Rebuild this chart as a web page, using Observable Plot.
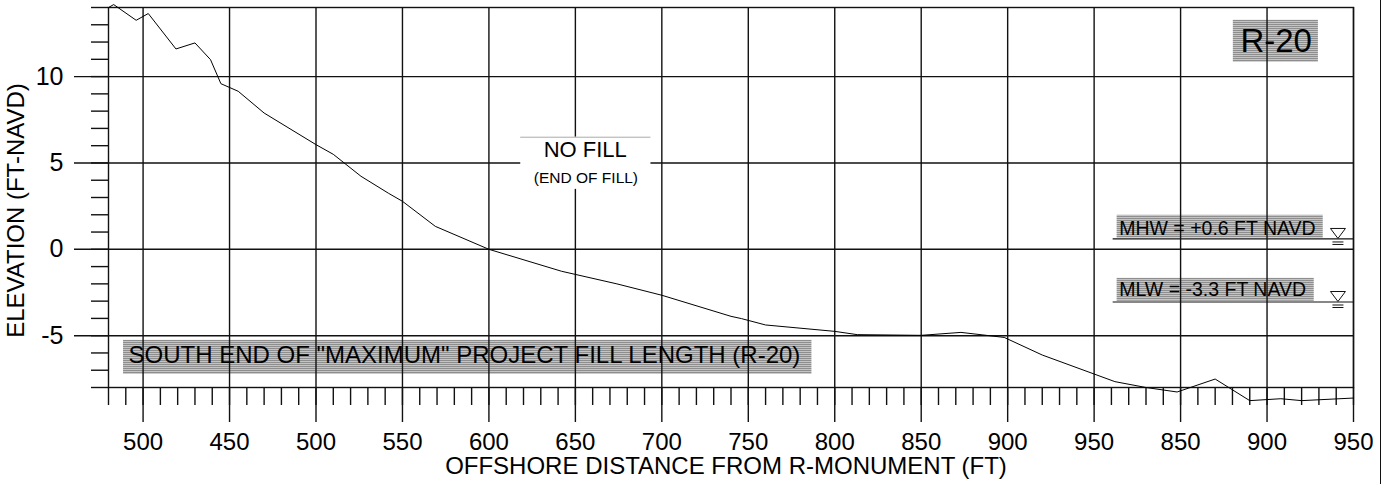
<!DOCTYPE html>
<html><head><meta charset="utf-8">
<script src="https://cdn.jsdelivr.net/npm/d3@7"></script>
<script src="https://cdn.jsdelivr.net/npm/@observablehq/plot@0.6"></script>
<style>
body{margin:0;background:#fff;}
#wrap{position:relative;width:1389px;height:484px;overflow:hidden;}
#border{position:absolute;left:1380px;top:0;width:1px;height:484px;background:#111;}
</style></head><body><div id="wrap"><div id="border"></div></div>
<script>
// Profile (offshore distance vs elevation)
const distance  = [380, 383, 396, 403, 419, 430, 439, 445, 455, 470, 500, 510, 526, 542, 550, 569, 600, 642, 674, 700, 740, 746, 760, 800, 813, 850, 873, 898, 920, 950, 962, 980, 998, 1020, 1040, 1058, 1070, 1100];
const elevation = [14.0, 14.17, 13.26, 13.65, 11.6, 11.95, 10.98, 9.59, 9.15, 7.89, 6.06, 5.5, 4.23, 3.24, 2.78, 1.33, 0.0, -1.27, -2.0, -2.66, -3.88, -4.01, -4.38, -4.75, -4.94, -4.98, -4.81, -5.1, -6.12, -7.22, -7.66, -8.0, -8.26, -7.51, -8.76, -8.65, -8.76, -8.61];

// Axis ticks
const xTickValues = [400, 450, 500, 550, 600, 650, 700, 750, 800, 850, 900, 950, 1000, 1050, 1100];
const xTickLabels = ["500", "450", "500", "550", "600", "650", "700", "750", "800", "850", "900", "950", "850", "900", "950"];
const xMinorTicks = d3.range(380, 1101, 10);
const yMajorTicks = [10, 5, 0, -5];
const yMinorTicks = d3.range(-8, 15, 1);
const xTitle = "OFFSHORE DISTANCE FROM R-MONUMENT (FT)";
const yTitle = "ELEVATION (FT-NAVD)";

// Tide levels
const tideLabels = ["MHW = +0.6 FT NAVD", "MLW = -3.3 FT NAVD"];
const tideLevels = [0.6, -3.05];

// Annotation texts
const noFillTitle = "NO FILL";
const noFillSub = "(END OF FILL)";
const southLabel = "SOUTH END OF \"MAXIMUM\" PROJECT FILL LENGTH (R-20)";
const stationLabel = "R-20";

const profile = distance.map((d, i) => ({distance: d, elevation: elevation[i]}));
const tides = tideLevels.map((l, i) => ({level: l, label: tideLabels[i], x1: 961, x2: 1100, sx: 1091, tx: 964.5, ty: l + (i === 0 ? 0.25 : 0.33), bx1: 963.3, bx2: i === 0 ? 1082.5 : 1077.3, by1: l + 0.04, by2: l + 1.37}));

const hatchBoxes = [
  {x1: 388.7, x2: 786.8, y1: -7.24, y2: -5.27},
  {x1: 1030.5, x2: 1079.7, y1: 10.83, y2: 13.26},
  ...tides.map(t => ({x1: t.bx1, x2: t.bx2, y1: t.by1, y2: t.by2}))
];

const tideSymbol = {
  draw(ctx) {
    ctx.moveTo(-7.5, -10.5); ctx.lineTo(7.5, -10.5); ctx.lineTo(0, -0.5); ctx.closePath();
    ctx.moveTo(-5.5, 3); ctx.lineTo(5.5, 3);
    ctx.moveTo(-5.5, 5.5); ctx.lineTo(5.5, 5.5);
  }
};

const ink = "#111";
const sw = 1.4;

const chart = Plot.plot({
  width: 1389,
  height: 484,
  marginLeft: 108,
  marginRight: 36,
  marginTop: 7,
  marginBottom: 97,
  style: {fontFamily: "'Liberation Sans', Arial, sans-serif", background: "transparent", color: "#000", overflow: "visible"},
  x: {domain: [380, 1100], axis: null},
  y: {domain: [-8, 14], axis: null},
  marks: [
    () => {
      const defs = d3.create("svg:defs");
      const p = defs.append("pattern").attr("id", "hatch").attr("patternUnits", "userSpaceOnUse").attr("width", 8).attr("height", 2);
      p.append("rect").attr("width", 8).attr("height", 2).attr("fill", "#c4c4c4");
      p.append("rect").attr("width", 8).attr("height", 1).attr("fill", "#8e8e8e");
      return defs.node();
    },
    Plot.rect(hatchBoxes, {x1: "x1", x2: "x2", y1: "y1", y2: "y2", fill: "url(#hatch)"}),
    Plot.gridX({ticks: xTickValues, stroke: ink, strokeOpacity: 1, strokeWidth: sw}),
    Plot.gridY({ticks: yMajorTicks, stroke: ink, strokeOpacity: 1, strokeWidth: sw}),
    Plot.frame({stroke: ink, strokeWidth: sw}),
    Plot.axisX({ticks: xMinorTicks, tickSize: 18, tickFormat: () => "", stroke: ink, strokeWidth: sw}),
    Plot.axisX({ticks: xTickValues, tickSize: 35, tickPadding: 10, fontSize: 24, stroke: ink, strokeWidth: sw,
      tickFormat: d => xTickLabels[xTickValues.indexOf(d)]}),
    Plot.axisY({ticks: yMinorTicks, tickSize: 17, tickFormat: () => "", stroke: ink, strokeWidth: sw}),
    Plot.axisY({ticks: yMajorTicks, tickSize: 34, tickPadding: 11, fontSize: 25, stroke: ink, strokeWidth: sw,
      tickFormat: d => String(d)}),
    // NO FILL white box
    Plot.rect([{x1: 618.4, x2: 693.7, y1: 3.47, y2: 6.49}], {x1: "x1", x2: "x2", y1: "y1", y2: "y2", fill: "white"}),
    Plot.ruleY([6.49], {x1: 618.4, x2: 693.7, stroke: "#aaa", strokeWidth: 1}),
    Plot.text([noFillTitle], {x: 655.7, y: 5.33, lineAnchor: "bottom", fontSize: 22}),
    Plot.text([noFillSub], {x: 656.1, y: 3.82, lineAnchor: "bottom", fontSize: 15.5}),
    // Tide lines
    Plot.ruleY(tides, {y: "level", x1: "x1", x2: "x2", stroke: ink, strokeWidth: 1.2}),
    Plot.dot(tides, {x: "sx", y: "level", symbol: tideSymbol, fill: "white", stroke: ink, strokeWidth: 1}),
    Plot.text(tides, {x: "tx", y: "ty", text: "label", textAnchor: "start", lineAnchor: "bottom", fontSize: 19.5}),
    // Labels
    Plot.text([southLabel], {x: 391.6, y: -6.6, textAnchor: "start", lineAnchor: "bottom", fontSize: 24}),
    Plot.text([stationLabel], {x: 1055.3, y: 11.41, lineAnchor: "bottom", fontSize: 33}),
    // Profile
    Plot.line(profile, {x: "distance", y: "elevation", stroke: "#000", strokeWidth: 1}),
    // Titles
    Plot.text([xTitle], {frameAnchor: "bottom", textAnchor: "middle", dx: -5, dy: 86, lineAnchor: "bottom", fontSize: 24}),
    Plot.text([yTitle], {frameAnchor: "left", textAnchor: "middle", rotate: -90, dx: -92, dy: 13, fontSize: 24})
  ]
});
document.getElementById("wrap").appendChild(chart);
</script>
</body></html>
